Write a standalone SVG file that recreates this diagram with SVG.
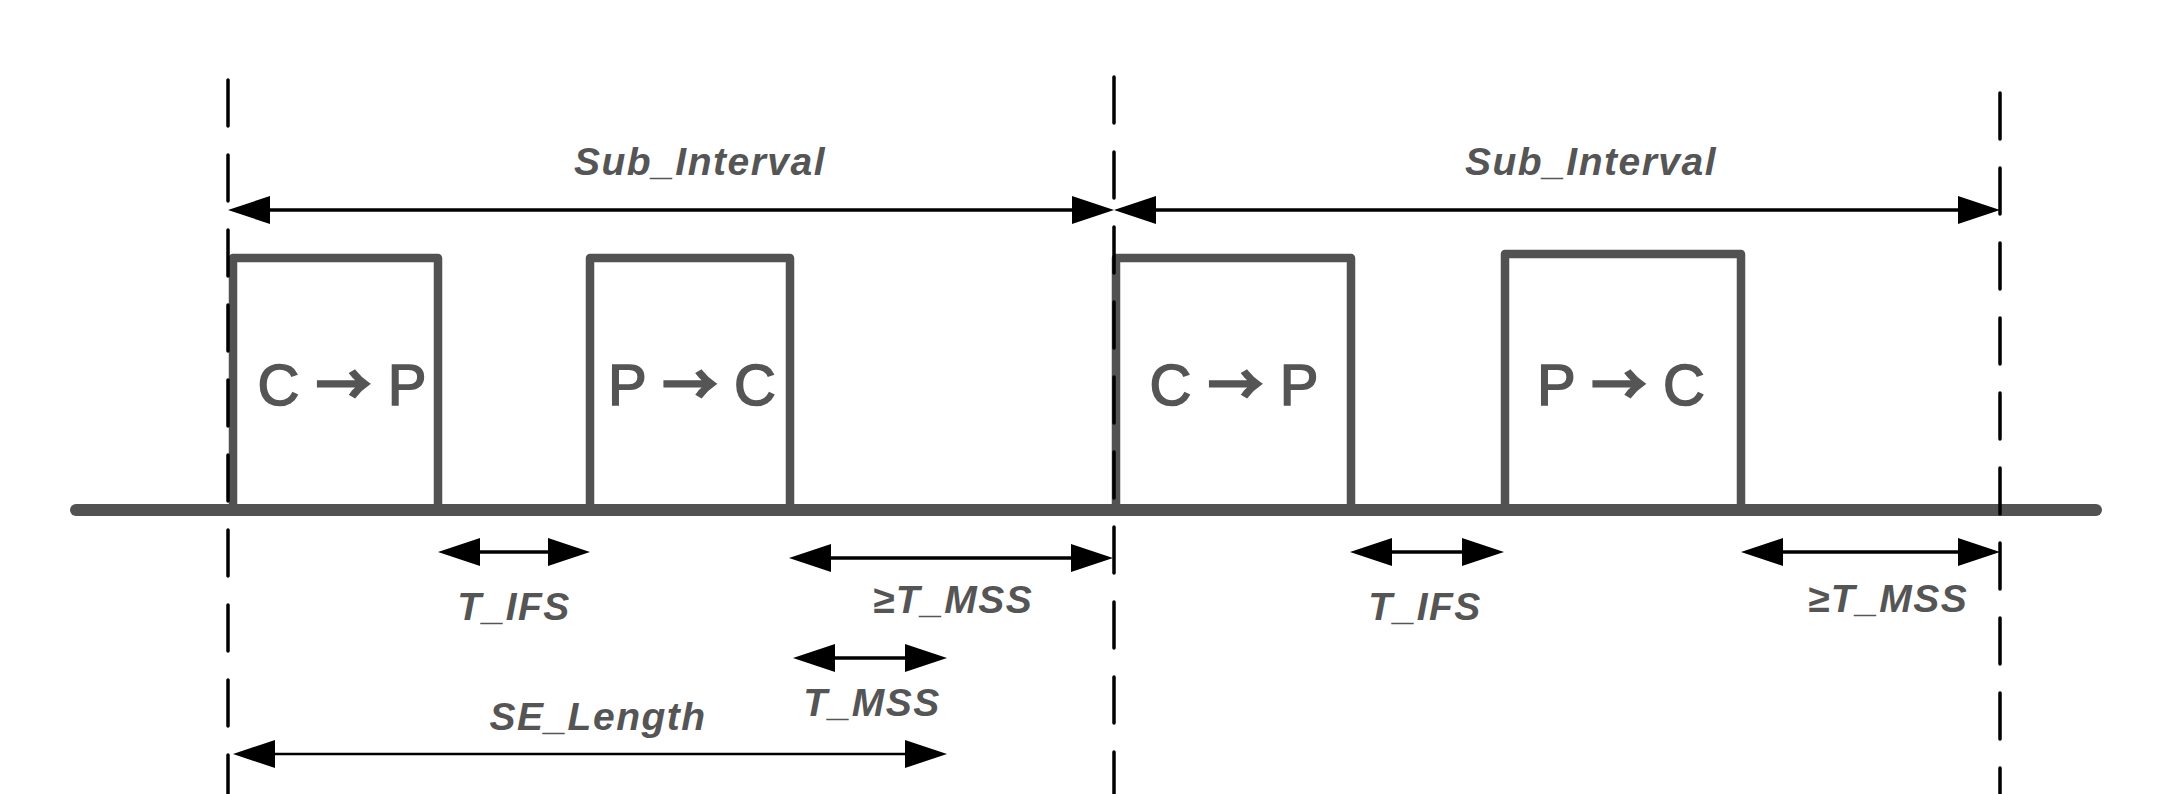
<svg xmlns="http://www.w3.org/2000/svg" width="2169" height="794" viewBox="0 0 2169 794">
<style>
.bg{fill:#ffffff}
.guide{fill:none;stroke:#000;stroke-width:3.5;stroke-dasharray:46 29;stroke-linecap:round}
.timeline{fill:none;stroke:#525252;stroke-width:12;stroke-linecap:round}
.box{fill:none;stroke:#525252;stroke-width:8.5;stroke-linejoin:round}
.boxlbl{font-family:"Liberation Sans",Arial,sans-serif;font-size:58px;fill:#555555;stroke:#555555;stroke-width:1.6px;text-anchor:middle}
.boxlbl .ar{font-family:"Noto Sans CJK SC",sans-serif;font-weight:bold;font-size:56px}
.lbl{font-family:"Liberation Sans",Arial,sans-serif;font-size:39px;font-weight:bold;font-style:italic;fill:#555555;text-anchor:middle;letter-spacing:1.5px}
.arr{fill:none;stroke:#000;stroke-width:3.5;marker-start:url(#ah);marker-end:url(#ah)}
.arr.thin{stroke-width:2.5}
</style>
<defs>
<marker id="ah" markerUnits="userSpaceOnUse" viewBox="0 0 42 28" markerWidth="42" markerHeight="28" refX="32" refY="14" orient="auto-start-reverse">
<path d="M0,0 L42,14 L0,28 Z" fill="#000"/>
</marker>
</defs>
<rect class="bg" x="0" y="0" width="2169" height="794"/>

<g id="timeline">
<line class="timeline" x1="76" y1="510" x2="2096" y2="510"/>
</g>

<g id="box1">
<path class="box" d="M233,510 V258 H438 V510"/>
<text class="boxlbl" x="342" y="405">C <tspan class="ar">→</tspan> P</text>
</g>
<g id="box2">
<path class="box" d="M590,510 V258 H790 V510"/>
<text class="boxlbl" x="692" y="405">P <tspan class="ar">→</tspan> C</text>
</g>
<g id="box3">
<path class="box" d="M1116,510 V258 H1351 V510"/>
<text class="boxlbl" x="1234" y="405">C <tspan class="ar">→</tspan> P</text>
</g>
<g id="box4">
<path class="box" d="M1505,510 V254 H1741 V510"/>
<text class="boxlbl" x="1621" y="405">P <tspan class="ar">→</tspan> C</text>
</g>

<g id="guides">
<line class="guide" x1="228" y1="80" x2="228" y2="800"/>
<line class="guide" x1="1114" y1="77" x2="1114" y2="800"/>
<line class="guide" x1="2000" y1="93" x2="2000" y2="800"/>
</g>

<g id="connectors">
<line class="arr" x1="238" y1="210" x2="1104" y2="210"/>
<line class="arr" x1="1124" y1="210" x2="1990" y2="210"/>
<line class="arr" x1="448" y1="552" x2="580" y2="552"/>
<line class="arr" x1="799" y1="558" x2="1103" y2="558"/>
<line class="arr" x1="803" y1="658" x2="937" y2="658"/>
<line class="arr thin" x1="243" y1="754" x2="937" y2="754"/>
<line class="arr" x1="1360" y1="552" x2="1494" y2="552"/>
<line class="arr" x1="1751" y1="552" x2="1990" y2="552"/>
</g>

<g id="labels">
<text class="lbl" x="700" y="175">Sub_Interval</text>
<text class="lbl" x="1591" y="175">Sub_Interval</text>
<text class="lbl" x="514" y="620">T_IFS</text>
<text class="lbl" x="953" y="613">≥T_MSS</text>
<text class="lbl" x="872" y="716">T_MSS</text>
<text class="lbl" x="598" y="730">SE_Length</text>
<text class="lbl" x="1425" y="620">T_IFS</text>
<text class="lbl" x="1888" y="612">≥T_MSS</text>
</g>
</svg>
